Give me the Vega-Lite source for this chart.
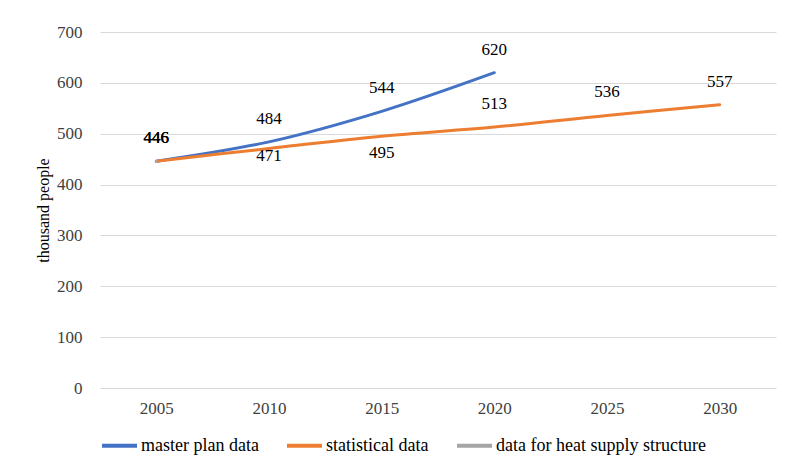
{
  "$schema": "https://vega.github.io/schema/vega-lite/v6.json",
  "width": 676,
  "height": 356,
  "autosize": "none",
  "padding": {"left": 100, "top": 32, "right": 9, "bottom": 77},
  "background": "white",
  "config": {
    "font": "Liberation Serif, Times New Roman, serif",
    "view": {"stroke": null},
    "text": {"font": "Liberation Serif, Times New Roman, serif"},
    "legend": {"labelFont": "Liberation Serif, Times New Roman, serif"},
    "axis": {"labelFont": "Liberation Serif, Times New Roman, serif", "titleFont": "Liberation Serif, Times New Roman, serif", "labelColor": "#404040", "titleColor": "#000000"}
  },
  "data": {
    "values": [
      {"year": "2005", "series": "master plan data", "value": 446},
      {"year": "2010", "series": "master plan data", "value": 484},
      {"year": "2015", "series": "master plan data", "value": 544},
      {"year": "2020", "series": "master plan data", "value": 620},
      {"year": "2005", "series": "statistical data", "value": 446},
      {"year": "2010", "series": "statistical data", "value": 471},
      {"year": "2015", "series": "statistical data", "value": 495},
      {"year": "2020", "series": "statistical data", "value": 513},
      {"year": "2025", "series": "statistical data", "value": 536},
      {"year": "2030", "series": "statistical data", "value": 557},
      {"year": "2005", "series": "data for heat supply structure", "value": 446}
    ]
  },
  "encoding": {
    "x": {
      "field": "year", "type": "ordinal",
      "scale": {"type": "point", "padding": 0.5},
      "axis": {"title": null, "labelAngle": 0, "domain": false, "ticks": false, "labelPadding": 12, "labelFontSize": 17, "grid": false}
    },
    "y": {
      "field": "value", "type": "quantitative",
      "scale": {"domain": [0, 700]},
      "axis": {"title": "thousand people", "titleFontSize": 16, "titleFontWeight": "normal", "titlePadding": 5, "values": [0,100,200,300,400,500,600,700], "domain": false, "ticks": false, "labelPadding": 18, "labelFontSize": 17, "gridColor": "#d9d9d9", "gridWidth": 1}
    }
  },
  "layer": [
    {
      "mark": {"type": "line", "strokeWidth": 3, "interpolate": "catmull-rom", "strokeCap": "round"},
      "encoding": {
        "color": {
          "field": "series", "type": "nominal",
          "scale": {"domain": ["master plan data", "statistical data", "data for heat supply structure"], "range": ["#4472C4", "#ED7D31", "#A5A5A5"]},
          "legend": {"orient": "bottom", "direction": "horizontal", "title": null, "symbolType": "stroke", "symbolSize": 1225, "symbolStrokeWidth": 4, "labelFontSize": 18, "labelColor": "#000000", "labelOffset": 2, "labelLimit": 400, "columnPadding": 20, "offset": 10}
        }
      }
    },
    {
      "transform": [{"filter": "!(datum.series == 'statistical data' && (datum.year == '2010' || datum.year == '2015'))"}],
      "mark": {"type": "text", "dy": -23, "fontSize": 17, "color": "#000000"},
      "encoding": {"text": {"field": "value", "type": "quantitative"}}
    },
    {
      "transform": [{"filter": "datum.series == 'statistical data' && datum.year == '2010'"}],
      "mark": {"type": "text", "dy": 8, "fontSize": 17, "color": "#000000"},
      "encoding": {"text": {"field": "value", "type": "quantitative"}}
    },
    {
      "transform": [{"filter": "datum.series == 'statistical data' && datum.year == '2015'"}],
      "mark": {"type": "text", "dy": 17, "fontSize": 17, "color": "#000000"},
      "encoding": {"text": {"field": "value", "type": "quantitative"}}
    }
  ]
}
